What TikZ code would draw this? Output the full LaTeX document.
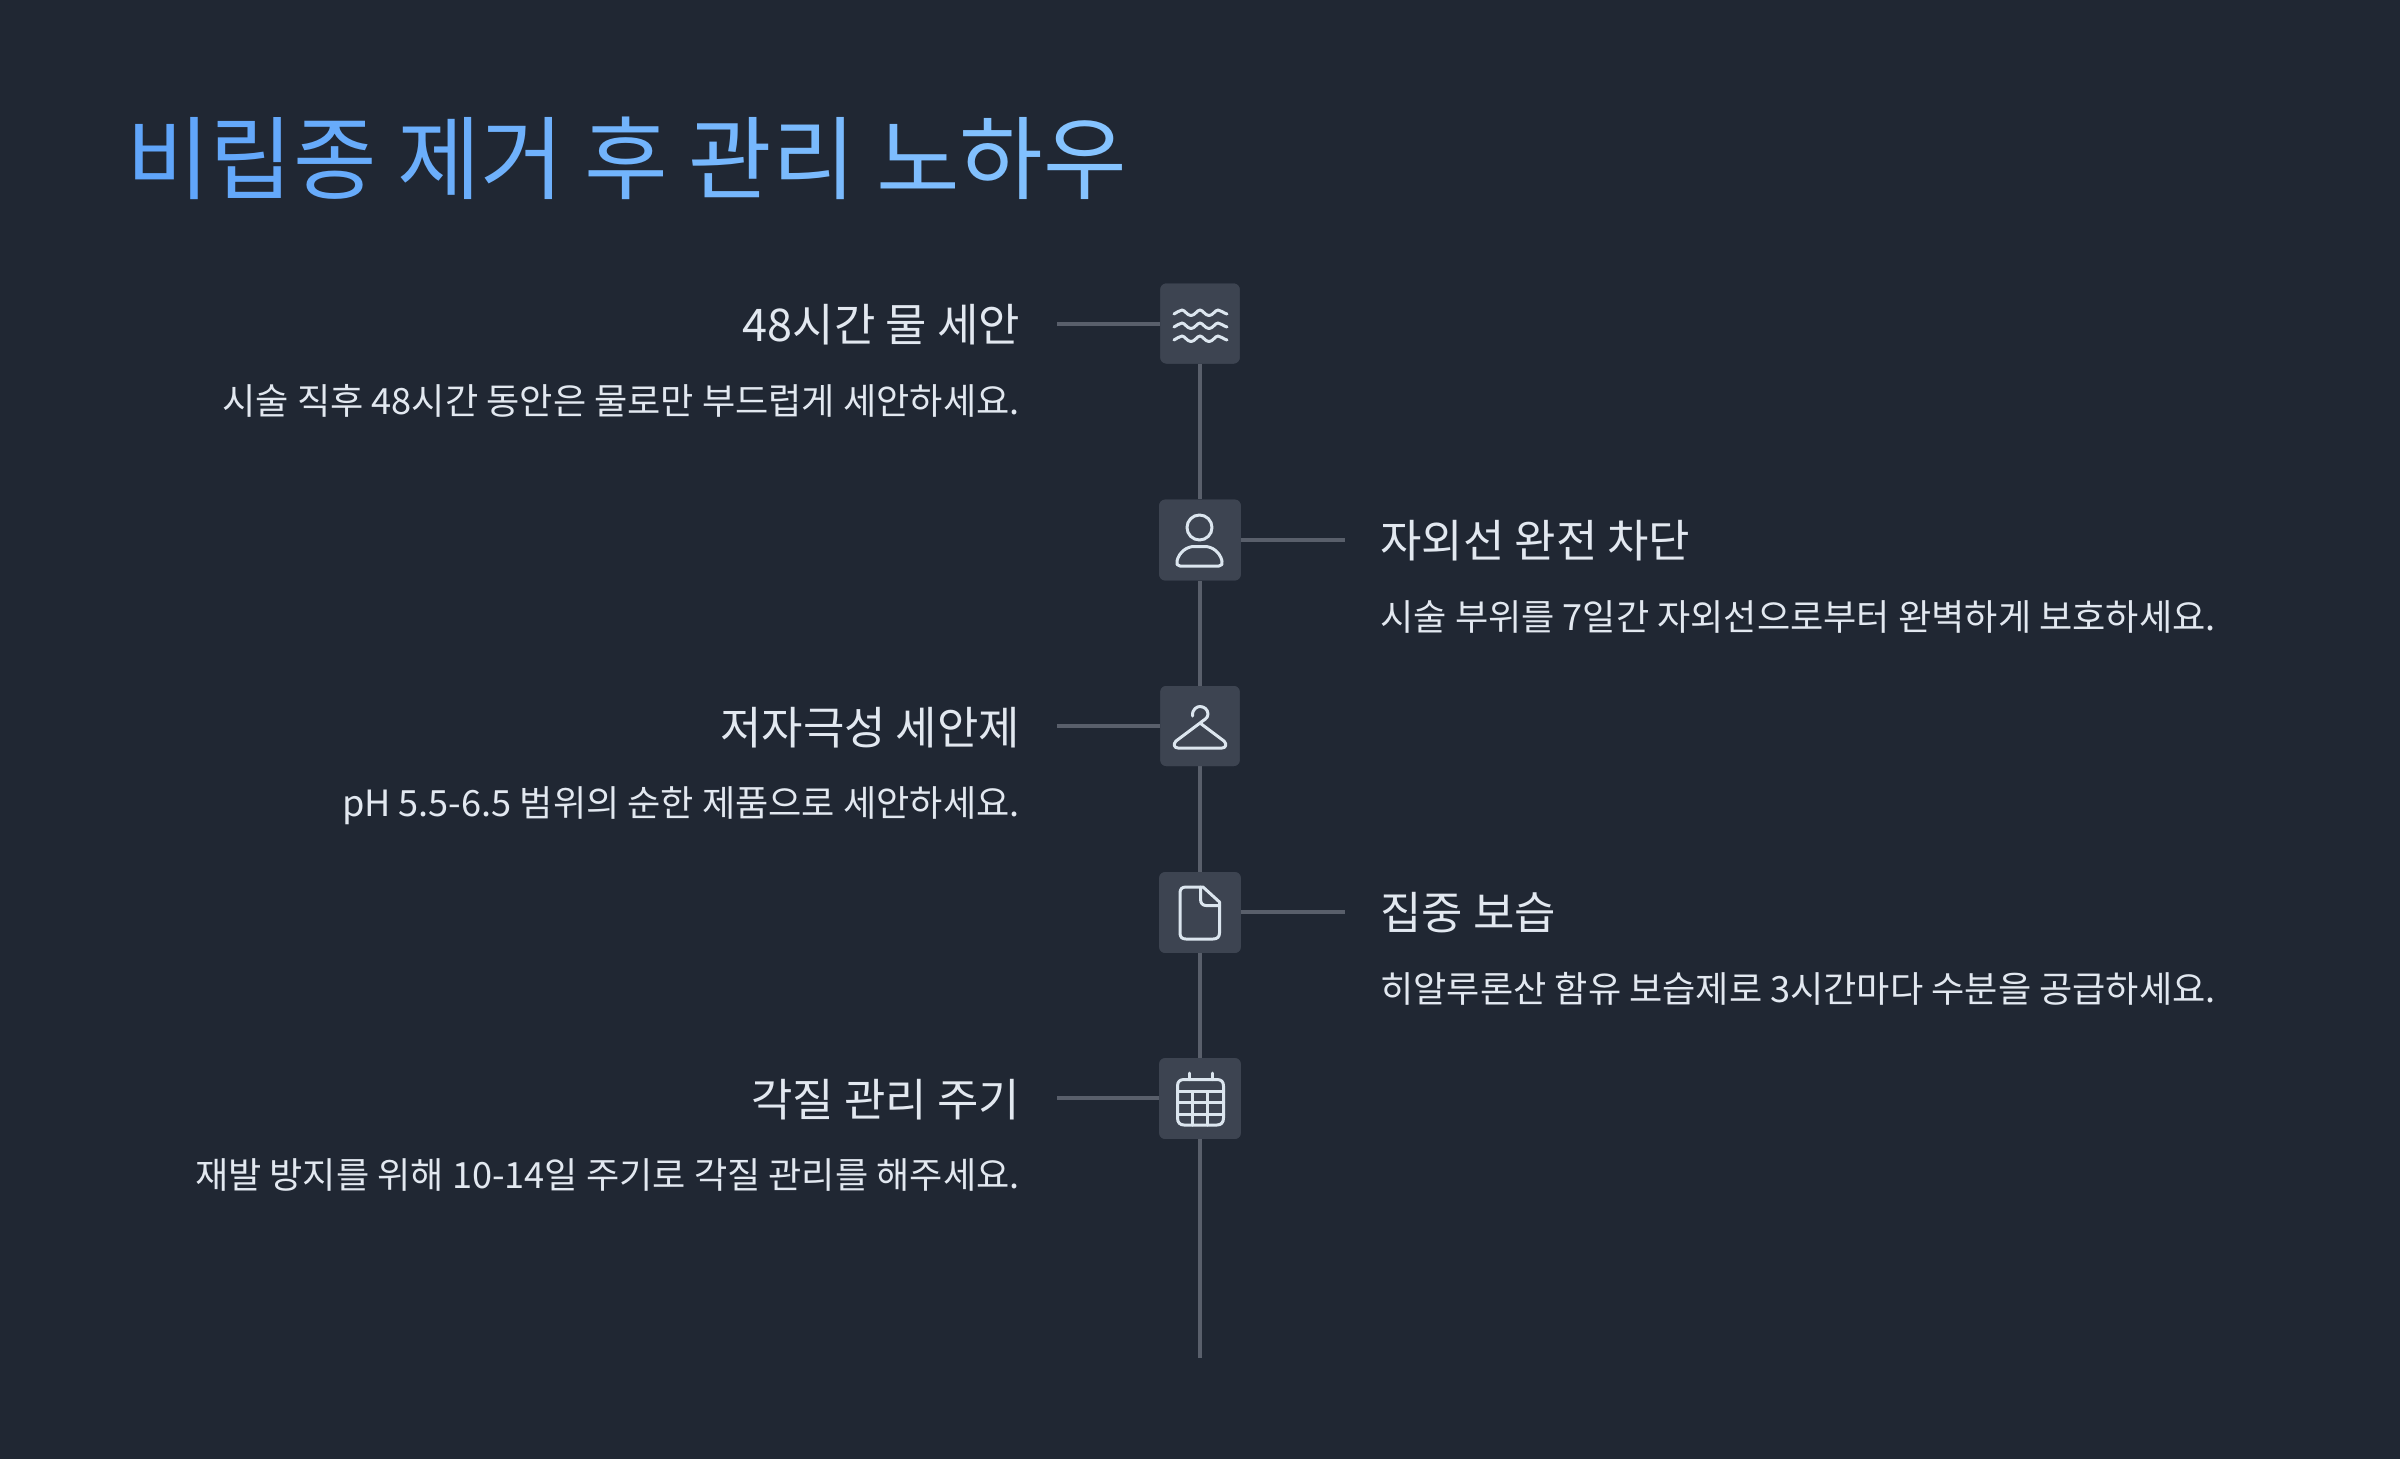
\documentclass[tikz,border=0pt]{standalone}
\usepackage{fontspec}
\setmainfont{Noto Sans CJK KR}
\definecolor{bgc}{HTML}{202733}
\definecolor{boxc}{HTML}{3D4451}
\definecolor{linec}{HTML}{595F6B}
\definecolor{txtc}{HTML}{E2E8F0}
\definecolor{iconc}{HTML}{DCE6EF}
\definecolor{tA}{HTML}{60A5FA}
\definecolor{tB}{HTML}{85C3FF}
\newcommand{\gc}[2]{\textcolor{tB!#1!tA}{#2}}
\tikzset{
  iconbox/.style={fill=boxc,rounded corners=3pt,minimum width=39.7pt,minimum height=40pt,inner sep=0pt,draw=none},
  iconboxw/.style={iconbox,minimum width=40.8pt,minimum height=40.4pt},
  conn/.style={draw=linec,line width=2pt},
  icon/.style={draw=iconc,line width=1.5pt,line cap=round,line join=round},
  headl/.style={anchor=base east,text=txtc,font=\fontsize{22.5}{26}\selectfont,inner sep=0pt},
  headr/.style={anchor=base west,text=txtc,font=\fontsize{22.5}{26}\selectfont,inner sep=0pt},
  subl/.style={anchor=base east,text=txtc,font=\fontsize{18.07}{22}\selectfont,inner sep=0pt},
  subr/.style={anchor=base west,text=txtc,font=\fontsize{18.07}{22}\selectfont,inner sep=0pt},
  titlet/.style={anchor=base west,text=tA,font=\fontsize{45.4}{56}\selectfont,inner sep=0pt}
}
\begin{document}
\begin{tikzpicture}[x=0.5pt,y=-0.5pt]
\useasboundingbox (0,0) rectangle (2400,1458);
\fill[bgc] (-10,-10) rectangle (2410,1470);
\node[titlet] (title) at (126,192) {\gc{0}{비}\gc{10}{립}\gc{20}{종} \gc{30}{제}\gc{40}{거} \gc{50}{후} \gc{60}{관}\gc{70}{리} \gc{80}{노}\gc{90}{하}\gc{100}{우}};
\node[iconbox] (b1) at (1200,323.5) {};
\node[iconboxw] (b2) at (1200,540) {};
\node[iconbox] (b3) at (1200,726) {};
\node[iconboxw] (b4) at (1200,912.5) {};
\node[iconboxw] (b5) at (1200,1098.5) {};
\coordinate (end) at (1200,1357.5);
\coordinate (l1) at (1057,323.5);
\coordinate (r2) at (1345,539.5);
\coordinate (l3) at (1057,726);
\coordinate (r4) at (1345,911.5);
\coordinate (l5) at (1057,1097.5);
\draw[conn] (b1) -- (b2);
\draw[conn] (b2) -- (b3);
\draw[conn] (b3) -- (b4);
\draw[conn] (b4) -- (b5);
\draw[conn] (b5) -- (end);
\draw[conn] (l1) -- (l1 -| b1.west);
\draw[conn] (r2 -| b2.east) -- (r2);
\draw[conn] (l3) -- (l3 -| b3.west);
\draw[conn] (r4 -| b4.east) -- (r4);
\draw[conn] (l5) -- (l5 -| b5.west);
\node[iconbox] at (b1) {};
\node[iconboxw] at (b2) {};
\node[iconbox] at (b3) {};
\node[iconboxw] at (b4) {};
\node[iconboxw] at (b5) {};
\node[headl] (h1) at (1020.5,341) {48시간 물 세안};
\node[subl] (s1) at (1020,414) {시술 직후 48시간 동안은 물로만 부드럽게 세안하세요.};
\node[headr] (h2) at (1380,557) {자외선 완전 차단};
\node[subr] (s2) at (1380,630) {시술 부위를 7일간 자외선으로부터 완벽하게 보호하세요.};
\node[headl] (h3) at (1020.5,744) {저자극성 세안제};
\node[subl] (s3) at (1020,816.5) {pH 5.5-6.5 범위의 순한 제품으로 세안하세요.};
\node[headr] (h4) at (1380,929.5) {집중 보습};
\node[subr] (s4) at (1380,1002.5) {히알루론산 함유 보습제로 3시간마다 수분을 공급하세요.};
\node[headl] (h5) at (1020.5,1116) {각질 관리 주기};
\node[subl] (s5) at (1020,1188.5) {재발 방지를 위해 10-14일 주기로 각질 관리를 해주세요.};
% waves
\foreach \y in {313,326,339}{
  \draw[icon] (1174,\y+1) .. controls (1177,\y) and (1179,\y-3) .. (1182,\y-3)
     .. controls (1185,\y-3) and (1187,\y+2.5) .. (1191,\y+2.5)
     .. controls (1195,\y+2.5) and (1197,\y-3) .. (1200,\y-3)
     .. controls (1203,\y-3) and (1205,\y+2.5) .. (1209,\y+2.5)
     .. controls (1213,\y+2.5) and (1215,\y-3) .. (1218,\y-3)
     .. controls (1221,\y-3) and (1223,\y) .. (1227,\y+1);
}
% person
\draw[icon] (1199.5,527.5) circle[radius=12.5];
\draw[icon] (1180,566) .. controls (1177,566) and (1176.5,564) .. (1177,561)
   .. controls (1179,552) and (1187,546.5) .. (1194,546.5) -- (1205,546.5)
   .. controls (1212,546.5) and (1220,552) .. (1222,561)
   .. controls (1222.5,564) and (1222,566) .. (1219,566) -- cycle;
% hanger
\draw[icon] (1192.5,716) .. controls (1192,709) and (1197,706.5) .. (1200,706.5)
   .. controls (1204,706.5) and (1208,709.5) .. (1208,714)
   .. controls (1208,719) and (1203,720) .. (1200,723)
   -- (1176,741) .. controls (1173,744) and (1174,748) .. (1178,748)
   -- (1222,748) .. controls (1226,748) and (1227,744) .. (1224,741) -- (1200,723);
% document
\draw[icon] (1203,887) -- (1186,887) .. controls (1182,887) and (1180,889) .. (1180,893)
   -- (1180,933) .. controls (1180,937) and (1182,939) .. (1186,939)
   -- (1213,939) .. controls (1217,939) and (1219.5,937) .. (1219.5,933)
   -- (1219.5,902) -- cycle;
\draw[icon] (1200.5,887) -- (1200.5,899) .. controls (1200.5,903) and (1202.5,905.5) .. (1206,905.5) -- (1219.5,905.5);
% calendar
\draw[icon] (1177.5,1086) .. controls (1177.5,1081.5) and (1180,1079.5) .. (1184,1079.5)
   -- (1217,1079.5) .. controls (1221,1079.5) and (1223.5,1081.5) .. (1223.5,1086)
   -- (1223.5,1118) .. controls (1223.5,1122.5) and (1221,1125) .. (1217,1125)
   -- (1184,1125) .. controls (1180,1125) and (1177.5,1122.5) .. (1177.5,1118) -- cycle;
\draw[icon] (1189,1073) -- (1189,1079.5);
\draw[icon] (1212.5,1073) -- (1212.5,1079.5);
\foreach \y in {1091.5,1102.5,1114}{\draw[icon] (1177.5,\y) -- (1223.5,\y);}
\foreach \x in {1192.5,1207.5}{\draw[icon] (\x,1091.5) -- (\x,1125);}
\end{tikzpicture}
\end{document}
